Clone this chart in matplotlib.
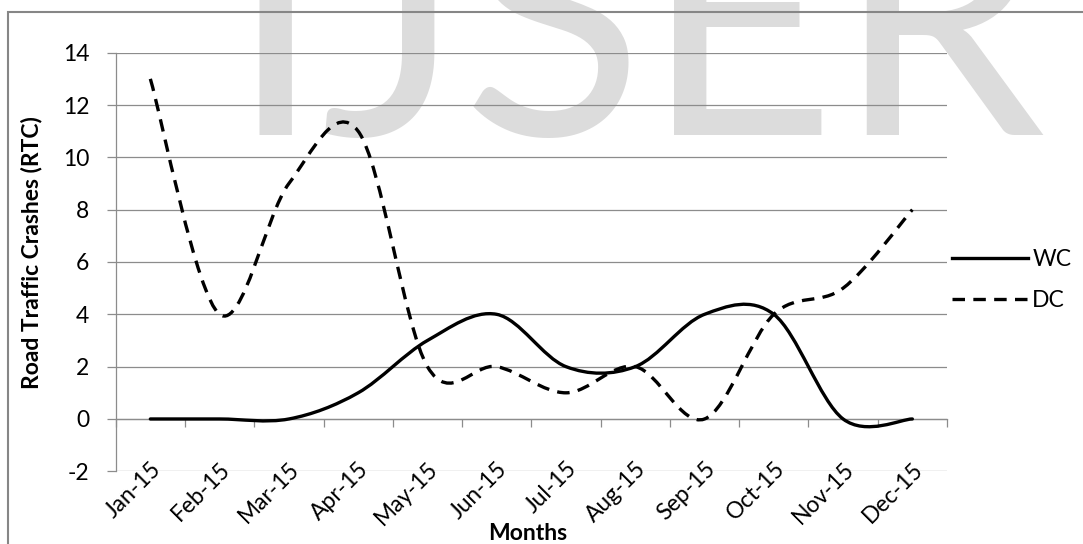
import numpy as np
import matplotlib
matplotlib.use("Agg")
import matplotlib.pyplot as plt
from matplotlib.path import Path
from matplotlib.patches import PathPatch, Rectangle
from matplotlib.lines import Line2D
from matplotlib.textpath import TextPath
from matplotlib.font_manager import FontProperties

# ---- data -------------------------------------------------------------
months = ["Jan-15", "Feb-15", "Mar-15", "Apr-15", "May-15", "Jun-15",
          "Jul-15", "Aug-15", "Sep-15", "Oct-15", "Nov-15", "Dec-15"]
wc = [0, 0, 0, 1, 3, 4, 2, 2, 4, 4, 0, 0]
dc = [13, 4, 9, 11, 2, 2, 1, 2, 0, 4, 5, 8]
y_ticks = [-2, 0, 2, 4, 6, 8, 10, 12, 14]

# ---- style ------------------------------------------------------------
W, H, DPI = 1083, 544, 100
FONT = "Lato"
GRID = "#8c8c8c"
plt.rcParams["font.family"] = [FONT, "DejaVu Sans"]
plt.rcParams["lines.scale_dashes"] = False
plt.rcParams["axes.unicode_minus"] = False
FS = 16.5


def px_x(v):
    return v / W


def px_y(v):
    return 1 - v / H


def smooth_path(xs, ys):
    """Cubic Bezier path through the points (Catmull-Rom style smoothing)."""
    pts = np.column_stack([xs, ys]).astype(float)
    n = len(pts)
    verts = [pts[0]]
    codes = [Path.MOVETO]
    for i in range(n - 1):
        p0 = pts[i - 1] if i > 0 else pts[i]
        p1 = pts[i]
        p2 = pts[i + 1]
        p3 = pts[i + 2] if i + 2 < n else pts[i + 1]
        verts += [p1 + (p2 - p0) / 6, p2 - (p3 - p1) / 6, p2]
        codes += [Path.CURVE4] * 3
    return Path(verts, codes)


fig = plt.figure(figsize=(W / DPI, H / DPI), dpi=DPI)
fig.patch.set_facecolor("white")

# watermark behind the chart, sized so its ink spans the given width
WM_TEXT = "IJSER"
wm_prop = FontProperties(family="Lato")
ink = TextPath((0, 0), WM_TEXT, size=100, prop=wm_prop).get_extents()
wm_size = 100 * (785 * 72 / DPI) / ink.width
fig.text(px_x(637), px_y(135), WM_TEXT, fontproperties=wm_prop,
         fontsize=wm_size, color="#dcdcdc", ha="center", va="baseline",
         zorder=-5)

# outer chart frame
fig.patches.append(Rectangle((px_x(8), -0.2), 1.2, px_y(12.3) + 0.2,
                             transform=fig.transFigure, fill=False,
                             edgecolor="#868686", linewidth=1.5,
                             zorder=-4))

ax_left, ax_right, ax_top, ax_bot = 115.7, 947, 52.7, 471.3
ax = fig.add_axes([px_x(ax_left), px_y(ax_bot),
                   (ax_right - ax_left) / W, (ax_bot - ax_top) / H])
ax.set_facecolor("none")

x = np.arange(len(months)) + 0.5
ax.set_xlim(0, len(months))
ax.set_ylim(y_ticks[0], y_ticks[-1])

for s in ("top", "right", "bottom"):
    ax.spines[s].set_visible(False)
ax.spines["left"].set_color(GRID)
ax.spines["left"].set_linewidth(0.9)

ax.set_yticks(y_ticks)
ax.yaxis.grid(True, color=GRID, linewidth=0.9)
ax.set_axisbelow(True)
ax.tick_params(axis="y", direction="out", length=6.5, width=0.9,
               color=GRID, pad=12.5, labelsize=FS)

ax.set_xticks(x)
ax.set_xticklabels(months)
ax.tick_params(axis="x", length=0, pad=-9.5, labelsize=FS)
for lab in ax.get_xticklabels():
    lab.set_rotation(45)
    lab.set_rotation_mode("anchor")
    lab.set_ha("right")
    lab.set_va("top")

# category axis crossing at zero
y0 = (0 - y_ticks[0]) / (y_ticks[-1] - y_ticks[0])
sec = ax.secondary_xaxis(y0)
sec.set_xticks(np.arange(len(months) + 1))
sec.tick_params(axis="x", direction="out", length=6, width=0.9,
                color=GRID, labelbottom=False, labeltop=False)
sec.spines["bottom"].set_color(GRID)
sec.spines["bottom"].set_linewidth(0.9)
for s in ("top", "left", "right"):
    sec.spines[s].set_visible(False)

LW = 2.4
DASH = (0, (9.0, 6.0))
ax.add_patch(PathPatch(smooth_path(x, wc), fill=False, edgecolor="black",
                       linewidth=LW, zorder=3, capstyle="round"))
ax.add_patch(PathPatch(smooth_path(x, dc), fill=False, edgecolor="black",
                       linewidth=LW, linestyle=DASH, zorder=3,
                       capstyle="butt"))

handles = [Line2D([], [], color="black", lw=LW),
           Line2D([], [], color="black", lw=LW, linestyle=DASH)]
ax.legend(handles, ["WC", "DC"], loc="center left",
          bbox_to_anchor=(px_x(952), px_y(280)),
          bbox_transform=fig.transFigure, frameon=False, fontsize=FS,
          handlelength=3.3, handletextpad=0.2, labelspacing=0.85,
          borderpad=0, borderaxespad=0)

fig.text(px_x(528), px_y(534), "Months", fontsize=FS, fontweight="bold",
         ha="center", va="center")
fig.text(px_x(32), px_y(253), "Road Traffic Crashes (RTC)", fontsize=FS,
         fontweight="bold", rotation=90, ha="center", va="center")

fig.savefig("out.png", dpi=DPI)
